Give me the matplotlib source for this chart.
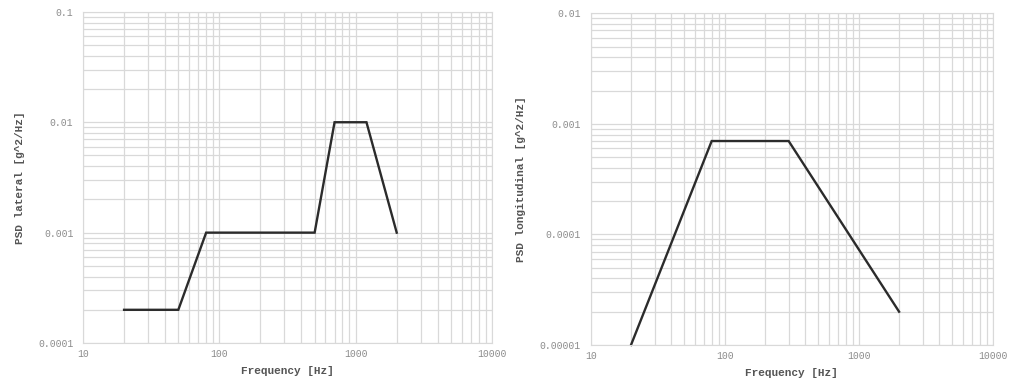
import matplotlib
matplotlib.use("Agg")
import matplotlib.pyplot as plt
from matplotlib.ticker import FixedLocator, FixedFormatter, LogLocator, NullFormatter

# left panel: lateral PSD profile
lat_freq = [20, 50, 80, 500, 700, 1200, 2000]
lat_psd = [0.0002, 0.0002, 0.001, 0.001, 0.01, 0.01, 0.001]
lat_yticks = [0.0001, 0.001, 0.01, 0.1]
lat_ylabels = ["0.0001", "0.001", "0.01", "0.1"]

# right panel: longitudinal PSD profile
lon_freq = [20, 80, 300, 2000]
lon_psd = [0.00001, 0.0007, 0.0007, 0.00002]
lon_yticks = [0.00001, 0.0001, 0.001, 0.01]
lon_ylabels = ["0.00001", "0.0001", "0.001", "0.01"]

xticks = [10, 100, 1000, 10000]
xlabels = ["10", "100", "1000", "10000"]

MONO = ["Liberation Mono", "DejaVu Sans Mono"]
GRID = "#d9d9d9"
TICK = "#8c8c8c"
LABEL = "#555555"


def style_axis(ax, yticks, ylabels, ylabel):
    ax.set_xscale("log")
    ax.set_yscale("log")
    ax.set_xlim(xticks[0], xticks[-1])
    ax.set_ylim(yticks[0], yticks[-1])
    ax.xaxis.set_major_locator(FixedLocator(xticks))
    ax.xaxis.set_major_formatter(FixedFormatter(xlabels))
    ax.yaxis.set_major_locator(FixedLocator(yticks))
    ax.yaxis.set_major_formatter(FixedFormatter(ylabels))
    for axis in (ax.xaxis, ax.yaxis):
        axis.set_minor_locator(LogLocator(base=10, subs=range(2, 10), numticks=20))
        axis.set_minor_formatter(NullFormatter())
    ax.grid(True, which="both", color=GRID, linewidth=0.9)
    ax.set_axisbelow(True)
    ax.tick_params(which="both", length=0, colors=TICK, labelsize=7)
    ax.tick_params(axis="x", pad=4.5)
    ax.tick_params(axis="y", pad=7)
    for lab in ax.get_xticklabels() + ax.get_yticklabels():
        lab.set_family(MONO)
    for sp in ax.spines.values():
        sp.set_color(GRID)
    ax.set_xlabel("Frequency [Hz]", family=MONO, fontsize=8, fontweight="bold",
                  color=LABEL, labelpad=5)
    ax.set_ylabel(ylabel, family=MONO, fontsize=8, fontweight="bold", color=LABEL)


fig = plt.figure(figsize=(10.09, 3.82), dpi=100)
ax1 = fig.add_axes([0.0823, 0.102, 0.4053, 0.867])
ax2 = fig.add_axes([0.5854, 0.097, 0.3985, 0.868])

ax1.plot(lat_freq, lat_psd, color="#2b2b2b", linewidth=1.7, solid_joinstyle="miter")
style_axis(ax1, lat_yticks, lat_ylabels, "PSD lateral [g^2/Hz]")

ax2.plot(lon_freq, lon_psd, color="#2b2b2b", linewidth=1.7, solid_joinstyle="miter",
         clip_on=False)
style_axis(ax2, lon_yticks, lon_ylabels, "PSD longitudinal [g^2/Hz]")

ax1.yaxis.set_label_coords(-0.142, 0.5)
ax2.yaxis.set_label_coords(-0.161, 0.5)

fig.savefig("out.png", dpi=100)
